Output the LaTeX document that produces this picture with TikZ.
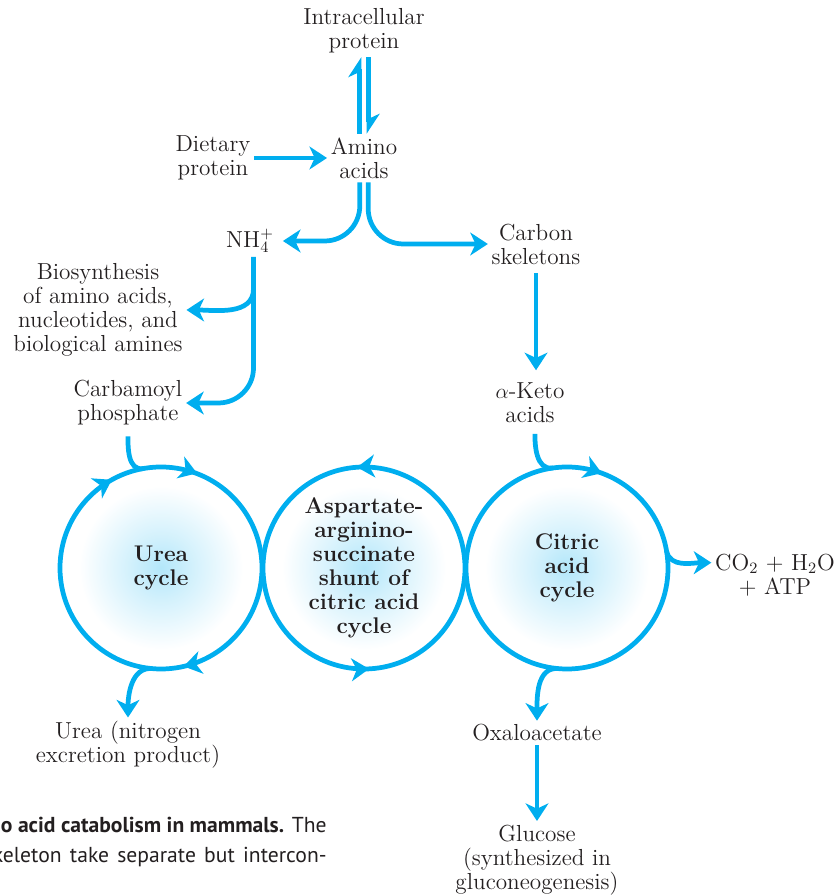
\documentclass[tikz,border=0pt]{standalone}
\usepackage{fontspec}
\newfontfamily\capfont{PT Sans}
\usetikzlibrary{arrows.meta,decorations.markings,backgrounds}
\definecolor{pathblue}{RGB}{0,174,239}
\definecolor{ink}{RGB}{35,31,32}
\pgfdeclareradialshading{glow}{\pgfpoint{0bp}{0bp}}{color(0bp)=(pathblue!30); color(10bp)=(pathblue!17); color(25bp)=(white); color(50bp)=(white)}
\begin{document}
\begin{tikzpicture}[x=0.02cm,y=0.02cm,
  >={Stealth[length=10pt,width=13pt,inset=3pt]},
  lbl/.style={align=center,text=ink,inner sep=2pt,font=\fontsize{13.2}{13.7}\selectfont},
  cyc/.style={align=center,text=ink,circle,minimum size=4.04cm,inner sep=0pt,outer sep=0pt,
    font=\fontsize{12.9}{13.7}\selectfont\bfseries},
  pipe/.style={draw=pathblue,line width=2.7pt},
  flow/.style={pipe,->},
  half/.style={pipe,-{Stealth[harpoon,length=10pt,width=13pt,inset=3pt]}},
  ring/.style={pipe,postaction={decorate},decoration={markings,#1}},
  captext/.style={anchor=base east,text=ink,inner sep=0pt,font=\capfont\fontsize{12.3}{14}\selectfont}]
\useasboundingbox (0,0) rectangle (833,896);
\clip (0,0) rectangle (833,896);

\node[lbl] (intra) at (364,865) {Intracellular\\protein};
\node[lbl] (amino) at (364,738) {Amino\\acids};
\node[lbl] (diet) at (213,738) {Dietary\\protein};
\node[lbl] (nh4) at (250,655) {NH$_4^+$};
\node[lbl] (carbon) at (536,652) {Carbon\\skeletons};
\node[lbl] (biosyn) at (98,586) {Biosynthesis\\of amino acids,\\nucleotides, and\\biological amines};
\node[lbl] (carbamoyl) at (128,493) {Carbamoyl\\phosphate};
\node[lbl] (keto) at (530,493) {$\alpha$-Keto\\acids};
\node[cyc] (urea) at (161,328) {Urea\\cycle};
\node[cyc] (shunt) at (364,328) {Aspartate-\\arginino-\\succinate\\shunt of\\citric acid\\cycle};
\node[cyc] (citric) at (567,328) {Citric\\acid\\cycle};
\node[lbl] (ureaout) at (128,151) {Urea (nitrogen\\excretion product)};
\node[lbl] (oxalo) at (537,163) {Oxaloacetate};
\node[lbl] (glucose) at (537,36) {Glucose\\(synthesized in\\gluconeogenesis)};
\node[lbl] (co2) at (775,321) {CO$_2$ + H$_2$O\\+ ATP};

\begin{scope}[on background layer]
\foreach \c in {urea,shunt,citric}
  \shade[shading=glow] (\c) circle (82);
\end{scope}

\draw[ring={mark=at position 0.331 with {\arrowreversed{>}},
            mark=at position 0.192 with {\arrowreversed{>}},
            mark=at position 0.786 with {\arrowreversed{>}}}] (urea) circle (101);
\draw[ring={mark=at position 0.261 with {\arrow{>}},
            mark=at position 0.758 with {\arrow{>}}}] (shunt) circle (101);
\draw[ring={mark=at position 0.194 with {\arrowreversed{>}}}] (citric) circle (101);

\draw[half] ([xshift=-2.4pt]amino.north) -- ([xshift=-2.4pt]intra.south);
\draw[half] ([xshift=2.4pt]intra.south) -- ([xshift=2.4pt]amino.north);
\draw[flow] (diet) -- (amino);
\draw[flow,rounded corners=20pt,shorten >=3pt] ([xshift=-2.4pt]amino.south) |- (nh4);
\draw[flow,rounded corners=20pt] ([xshift=2.4pt]amino.south) |- (carbon);
\draw[flow,rounded corners=20pt] ([xshift=2pt]nh4.south) |- (carbamoyl);
\draw[flow] ([xshift=2pt]nh4.south) ++(0,-32) to[out=-90,in=0] (biosyn);
\draw[flow,shorten <=3pt,shorten >=5pt] (carbon.south) -- (carbon.south |- keto.north);
\draw[pipe,shorten <=4pt] (carbamoyl.south) to[out=-90,in=190] (urea.100);
\draw[pipe,shorten <=4pt] ([xshift=2.8pt]keto.south) to[out=-90,in=188] (citric.98);
\draw[flow] (urea.265) to[out=175,in=90] (ureaout.north);
\draw[flow] (citric.265) to[out=175,in=90] (oxalo.north);
\draw[flow] (citric.10) to[out=-80,in=180] ([yshift=7pt]co2.west);
\draw[flow] (oxalo) -- (glucose);

\node[captext] (capA) at (327,63) {\textbf{o acid catabolism in mammals.} The};
\node[captext] (capB) at (327,33) {\makebox[190pt][s]{keleton take separate but intercon-}};
\end{tikzpicture}
\end{document}
